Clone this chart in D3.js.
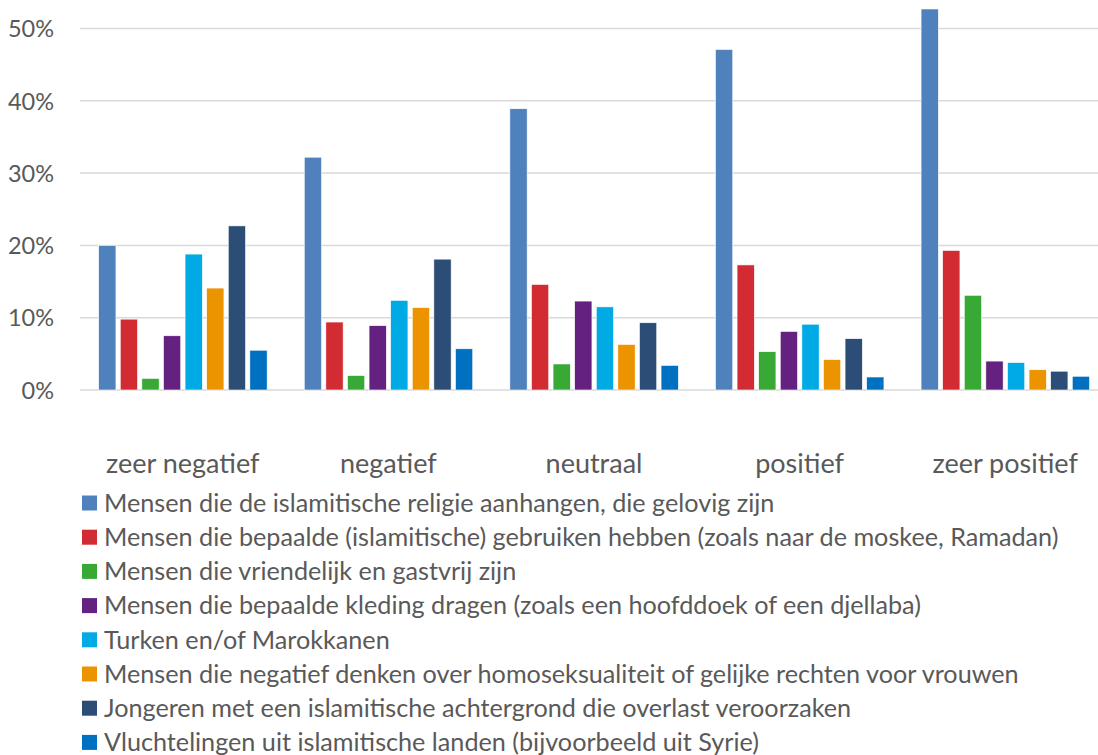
<!DOCTYPE html>
<html>
<head>
<meta charset="utf-8">
<script src="https://cdn.jsdelivr.net/npm/d3@7"></script>
<style>
  body { margin: 0; background: #fff; }
  text { font-family: Lato, "Noto Sans", sans-serif; fill: #595959; }
</style>
</head>
<body>
<script>
const categories = ["zeer negatief", "negatief", "neutraal", "positief", "zeer positief"]
const seriesNames = [
    "Mensen die de islamitische religie aanhangen, die gelovig zijn",
    "Mensen die bepaalde (islamitische) gebruiken hebben (zoals naar de moskee, Ramadan)",
    "Mensen die vriendelijk en gastvrij zijn",
    "Mensen die bepaalde kleding dragen (zoals een hoofddoek of een djellaba)",
    "Turken en/of Marokkanen",
    "Mensen die negatief denken over homoseksualiteit of gelijke rechten voor vrouwen",
    "Jongeren met een islamitische achtergrond die overlast veroorzaken",
    "Vluchtelingen uit islamitische landen (bijvoorbeeld uit Syrie)"
]
// percentages per series, one value per category
const religie    = [20.0, 32.2, 38.9, 47.1, 52.7]
const gebruiken  = [9.8, 9.4, 14.6, 17.3, 19.3]
const vriendelijk = [1.6, 2.0, 3.6, 5.3, 13.1]
const kleding    = [7.5, 8.9, 12.3, 8.1, 4.0]
const turken     = [18.8, 12.4, 11.5, 9.1, 3.8]
const negatief   = [14.1, 11.4, 6.3, 4.2, 2.8]
const jongeren   = [22.7, 18.1, 9.3, 7.1, 2.6]
const vluchtelingen = [5.5, 5.7, 3.4, 1.8, 1.9]
const yTicks = [0, 10, 20, 30, 40, 50]
const colors = ["#4F81BD", "#D22B31", "#38A935", "#65217F", "#00AAE4", "#EC9300", "#2C4D75", "#0070C0"]

const allSeries = [religie, gebruiken, vriendelijk, kleding, turken, negatief, jongeren, vluchtelingen]

const svg = d3.select("body").append("svg")
    .attr("width", 1098)
    .attr("height", 755)

// plot area runs a bit past the right edge, like the cropped original
const x0 = d3.scaleBand().domain(categories).range([80, 1108])
const x1 = d3.scaleBand().domain(d3.range(8))
    .range([16.5, 189.3])
    .paddingInner(0.2)
    .paddingOuter(0.1)
const y = d3.scaleLinear().domain([0, 50]).range([390, 28.5])

//gridlines
svg.append("g").selectAll("line")
    .data(yTicks)
    .join("line")
    .attr("x1", 80).attr("x2", 1098)
    .attr("y1", d => y(d)).attr("y2", d => y(d))
    .attr("stroke", "#d9d9d9")
    .attr("stroke-width", 1.5)

const yAxis = d3.axisLeft(y).tickValues(yTicks).tickFormat(d => d + "%").tickSize(0).tickPadding(0)
svg.append("g")
    .attr("transform", "translate(54,0)")
    .call(yAxis)
    .call(g => g.select(".domain").remove())
    .selectAll("text")
    .attr("font-size", 23.5)
    .attr("font-family", "Lato, sans-serif")
    .attr("fill", "#595959")
    .attr("dy", "0.35em")

//bars
const groups = svg.append("g").selectAll("g")
    .data(categories)
    .join("g")
    .attr("transform", d => `translate(${x0(d)},0)`)

groups.selectAll("rect")
    .data((c, ci) => allSeries.map((s, si) => ({ si: si, v: s[ci] })))
    .join("rect")
    .attr("x", d => x1(d.si))
    .attr("width", x1.bandwidth())
    .attr("y", d => y(d.v))
    .attr("height", d => y(0) - y(d.v))
    .attr("fill", d => colors[d.si])
    .attr("stroke", "#fff")
    .attr("stroke-width", 0.6)

// category labels
const xAxis = d3.axisBottom(x0).tickSize(0).tickPadding(0)
svg.append("g")
    .attr("transform", "translate(0,464)")
    .call(xAxis)
    .call(g => g.select(".domain").remove())
    .selectAll("text")
    .attr("font-size", 27)
    .attr("font-family", "Lato, sans-serif")
    .attr("fill", "#595959")
    .attr("dy", "0.35em")

// legend
const legend = svg.append("g").selectAll("g")
    .data(seriesNames)
    .join("g")
    .attr("transform", (d, i) => `translate(82,${503 + i * 34.2})`)

legend.append("rect")
    .attr("x", 0).attr("y", -7.5)
    .attr("width", 15).attr("height", 15)
    .attr("fill", (d, i) => colors[i])

legend.append("text")
    .attr("x", 22)
    .attr("dy", "0.35em")
    .attr("font-size", 25.2)
    .text(d => d)
</script>
</body>
</html>
